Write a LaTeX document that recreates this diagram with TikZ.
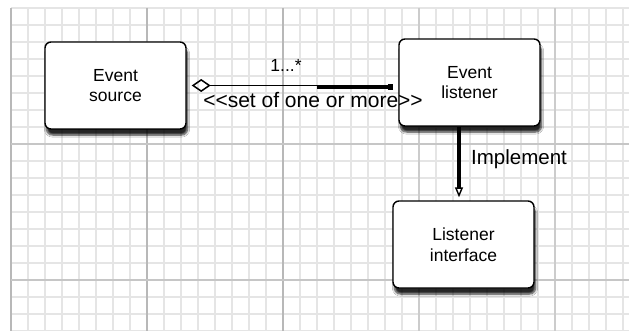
\documentclass[tikz,border=0pt]{standalone}
\usepackage{fontspec}
\setmainfont{Liberation Sans}
\usetikzlibrary{shadows.blur,arrows.meta,calc}

\definecolor{gridminor}{gray}{0.90}
\definecolor{gridmajor}{gray}{0.72}

\begin{document}
\begin{tikzpicture}[x=1pt,y=-1pt,
  classbox/.style={draw=black, line width=1.4pt, fill=white,
    rounded corners=6pt, minimum width=141pt, minimum height=87pt,
    align=center, font=\fontsize{17.5}{20.5}\selectfont,
    blur shadow={shadow xshift=1.5pt, shadow yshift=-6pt,
      shadow opacity=85, shadow blur steps=6}},
  lbl/.style={inner sep=0pt},
  minorline/.style={gridminor, line width=2.2pt},
  majorline/.style={gridmajor, line width=1.4pt}]

% page and margins
\useasboundingbox (0,0) rectangle (629,331);
\fill[white] (0,0) rectangle (629,331);

% grid paper background
\begin{scope}
  \clip (10,7) rectangle (629,331);
  \foreach \k in {0,...,36} \draw[minorline] (11+17*\k,8) -- (11+17*\k,331);
  \foreach \k in {0,...,19} \draw[minorline] (11,8+17*\k) -- (629,8+17*\k);
  \foreach \gx in {11,147,283} \draw[majorline] (\gx,8) -- (\gx,331);
  \foreach \gx in {419,555} \draw[gray!40, line width=2.5pt] (\gx,8) -- (\gx,331);
  \draw[gray!45, line width=2.5pt] (11,144) -- (629,144);
  \draw[gray!45, line width=2pt] (11,280) -- (629,280);
\end{scope}

% classes
\node[classbox] (source)    at (115.5,85.5)  {Event\\source};
\node[classbox] (listener)  at (469.5,82.5)  {Event\\listener};
\node[classbox] (interface) at (463.5,244.5) {Listener\\interface};

% aggregation: event source holds a set of listeners
\draw[line width=1.5pt, {Diamond[open,length=19pt,width=13pt]}-,
      shorten <=5pt, shorten >=6pt]
  (source.east) -- (source.east -| listener.west);
\coordinate (barstart) at ($(listener.west)+(-81,4.5)$);
\coordinate (barend)   at ($(listener.west)+(-6,4.5)$);
\draw[line width=4pt] (barstart) -- (barend);
\fill ($(barend)+(-4,-3)$) rectangle ($(barend)+(1,3)$);

\node[lbl, font=\fontsize{17.5}{20}\selectfont, anchor=base] (mult)
  at (286,72) {1...*};
\node[lbl, font=\fontsize{21}{24}\selectfont, anchor=base] (stereo)
  at (313,108) {<{}<set of one or more>{}>};

% realisation: listener implements the interface
\coordinate (implstart) at ($(listener.south)+(-10.5,0)$);
\coordinate (implmid)   at ($(listener.south)+(-10.5,62)$);
\draw[line width=4pt] (implstart) -- (implmid);
\draw[line width=1.4pt, -{Triangle[open,length=10pt,width=8pt]},
      shorten >=3pt]
  (implmid) -- (implmid |- interface.north);
\node[lbl, font=\fontsize{20.5}{24}\selectfont, anchor=base west] (impl)
  at (471,165) {Implement};

\end{tikzpicture}
\end{document}
